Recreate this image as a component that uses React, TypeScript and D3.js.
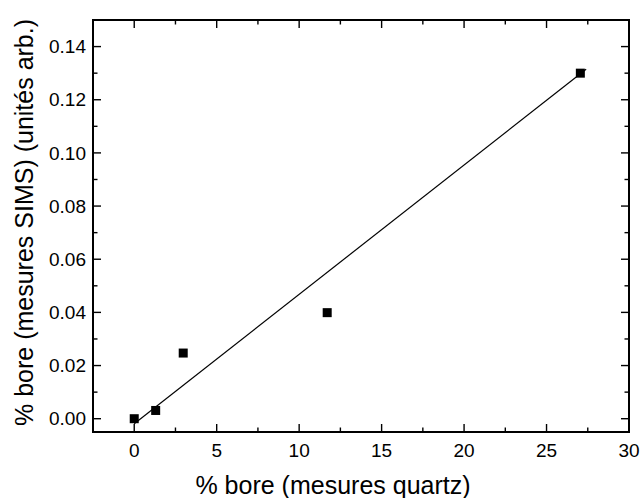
import React from "react";
import * as d3 from "d3";

const quartzPct = [0, 1.3, 2.97, 11.7, 27.05];
const simsPct = [0, 0.0031, 0.0247, 0.0399, 0.13];
const fitX = [0, 27.4];
const fitY = [-0.0019, 0.1315];
const xMajor = [0, 5, 10, 15, 20, 25, 30];
const xMinor = [-2.5, 2.5, 7.5, 12.5, 17.5, 22.5, 27.5];
const yMajor = [0, 0.02, 0.04, 0.06, 0.08, 0.1, 0.12, 0.14];
const yMinor = [-0.005, 0.01, 0.03, 0.05, 0.07, 0.09, 0.11, 0.13, 0.15];
const xTitle = "% bore (mesures quartz)";
const yTitle = "% bore (mesures SIMS) (unités arb.)";

const W = 641, H = 498;
const L = 93, R = 629, T = 20, B = 432;
const FONT = "'Liberation Sans', Arial, sans-serif";

export default function App() {
  const x = d3.scaleLinear().domain([-2.5, 30]).range([L, R]);
  const y = d3.scaleLinear().domain([-0.005, 0.15]).range([B, T]);
  const line = d3.line<number>().x((_, i) => x(fitX[i])).y((d) => y(d));
  const major = 8, minor = 4.5, ms = 9;
  return (
    <svg width={W} height={H} style={{ position: "absolute", left: 0, top: 0, background: "#fff" }}>
      <rect x={0} y={0} width={W} height={H} fill="#fff" />
      <path d={line(fitY) || ""} stroke="#000" strokeWidth={1.2} fill="none" />
      {quartzPct.map((v, i) => (
        <rect key={i} x={x(v) - ms / 2} y={y(simsPct[i]) - ms / 2} width={ms} height={ms} fill="#000" />
      ))}
      <g stroke="#000" strokeWidth={1.4}>
        {xMajor.map((v) => (
          <g key={"xM" + v}>
            <line x1={x(v)} x2={x(v)} y1={B} y2={B - major} />
            <line x1={x(v)} x2={x(v)} y1={T} y2={T + major} />
          </g>
        ))}
        {xMinor.map((v) => (
          <g key={"xm" + v}>
            <line x1={x(v)} x2={x(v)} y1={B} y2={B - minor} />
            <line x1={x(v)} x2={x(v)} y1={T} y2={T + minor} />
          </g>
        ))}
        {yMajor.map((v) => (
          <g key={"yM" + v}>
            <line x1={L} x2={L + major} y1={y(v)} y2={y(v)} />
            <line x1={R} x2={R - major} y1={y(v)} y2={y(v)} />
          </g>
        ))}
        {yMinor.map((v) => (
          <g key={"ym" + v}>
            <line x1={L} x2={L + minor} y1={y(v)} y2={y(v)} />
            <line x1={R} x2={R - minor} y1={y(v)} y2={y(v)} />
          </g>
        ))}
      </g>
      <rect x={L} y={T} width={R - L} height={B - T} fill="none" stroke="#000" strokeWidth={2} />
      <g fontFamily={FONT} fontSize={19} fill="#000">
        {xMajor.map((v) => (
          <text key={"xl" + v} x={x(v)} y={457} textAnchor="middle">{d3.format("d")(v)}</text>
        ))}
        {yMajor.map((v) => (
          <text key={"yl" + v} x={86} y={y(v)} dy="0.35em" textAnchor="end">{d3.format(".2f")(v)}</text>
        ))}
      </g>
      <text x={333} y={494} textAnchor="middle" fontFamily={FONT} fontSize={25}>{xTitle}</text>
      <text transform={`translate(33,${222.5}) rotate(-90)`} textAnchor="middle" fontFamily={FONT} fontSize={25}>{yTitle}</text>
    </svg>
  );
}
